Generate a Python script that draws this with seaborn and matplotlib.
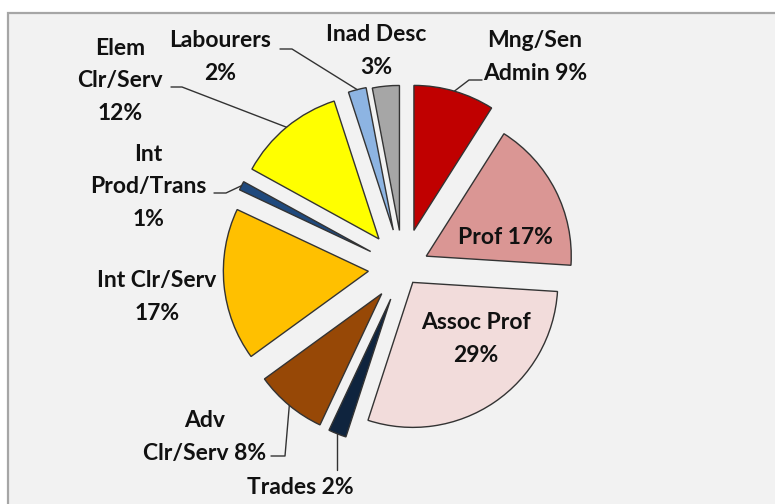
import matplotlib
matplotlib.use("Agg")
import matplotlib.pyplot as plt
import numpy as np
import seaborn as sns
from matplotlib.patches import Rectangle

# Occupation shares, clockwise from 12 o'clock
categories = ["Mng/Sen Admin", "Prof", "Assoc Prof", "Trades", "Adv Clr/Serv",
              "Int Clr/Serv", "Int Prod/Trans", "Elem Clr/Serv", "Labourers", "Inad Desc"]
shares = [9, 17, 29, 2, 8, 17, 1, 12, 2, 3]
label_texts = ["Mng/Sen\nAdmin 9%", "Prof 17%", "Assoc Prof\n29%", "Trades 2%",
               "Adv\nClr/Serv 8%", "Int Clr/Serv\n17%", "Int\nProd/Trans\n1%",
               "Elem\nClr/Serv\n12%", "Labourers\n2%", "Inad Desc\n3%"]
colors = ["#C00000", "#DA9694", "#F2DCDB", "#0F243E", "#974806",
          "#FFC000", "#1F497D", "#FFFF00", "#8DB4E2", "#A6A6A6"]
explode = [0.27, 0.18, 0.12, 0.23, 0.23, 0.24, 0.25, 0.26, 0.27, 0.26]

W, H = 775, 504
CX, CY, R = 403, 268, 145   # pie centre / radius in image pixels


def img(x, y):
    """image pixel (y down) -> axes data (y up)"""
    return x, H - y


# label centre (image px) and leader path from label side (image px)
label_pos = {
    "Mng/Sen Admin": (535, 57), "Prof": (505, 237), "Assoc Prof": (476, 339),
    "Trades": (300, 487), "Adv Clr/Serv": (205, 437), "Int Clr/Serv": (157, 297),
    "Int Prod/Trans": (148, 187), "Elem Clr/Serv": (120, 81), "Labourers": (220, 57),
    "Inad Desc": (376, 51),
}
leaders = {
    "Mng/Sen Admin": [(482, 80), (469, 80)],
    "Labourers": [(280, 49), (292, 49)],
    "Elem Clr/Serv": [(171, 87), (182, 87)],
    "Int Prod/Trans": [(214, 193), (226, 193)],
    "Adv Clr/Serv": [(271, 456), (285, 456)],
    "Trades": [None],
}

sns.set_theme(style="white")
plt.rcParams["font.family"] = ["Lato", "DejaVu Sans"]

fig = plt.figure(figsize=(W / 100, H / 100), dpi=100)
fig.patch.set_facecolor("white")
ax = fig.add_axes([0, 0, 1, 1])

wedges, _ = ax.pie(
    shares, colors=colors, explode=[e * R for e in explode],
    startangle=90, counterclock=False, center=img(CX, CY), radius=R,
    wedgeprops=dict(edgecolor="#333333", linewidth=1.0),
)
for w in wedges:
    w.set_zorder(3)

ax.set_xlim(0, W)
ax.set_ylim(0, H)
ax.set_aspect("equal")
ax.axis("off")

# chart area box
ax.add_patch(Rectangle((8, -20), W + 40, H - 13 + 20, facecolor="#F2F2F2",
                       edgecolor="#A6A6A6", linewidth=1.6, zorder=0))

for cat, txt, w in zip(categories, label_texts, wedges):
    x, y = label_pos[cat]
    ax.text(*img(x, y), txt, ha="center", va="center", fontsize=16.5,
            fontweight="bold", linespacing=1.65, color="#111111", zorder=5)
    if cat in leaders:
        mid = np.deg2rad(0.5 * (w.theta1 + w.theta2))
        ax_x = w.center[0] + w.r * np.cos(mid)
        ax_y = w.center[1] + w.r * np.sin(mid)
        pts = leaders[cat]
        if pts == [None]:
            path = [(ax_x, H - 470), (ax_x, ax_y)]
        else:
            path = [img(*p) for p in pts] + [(ax_x, ax_y)]
        xs, ys = zip(*path)
        ax.plot(xs, ys, color="#333333", linewidth=1.0, zorder=4)

fig.savefig("out.png", dpi=100)
